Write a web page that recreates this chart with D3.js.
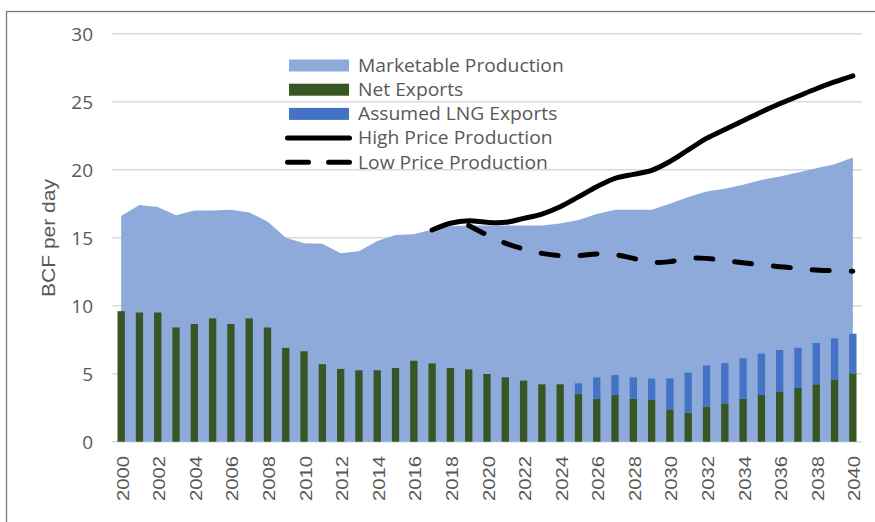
<!DOCTYPE html>
<html>
  <head>
    <meta charset="utf-8"/>
    <style>
      body { margin: 0; background: #fff; }
    </style>
  </head>
  <body>
    <script src="https://d3js.org/d3.v7.min.js"></script>
    <script type="text/javascript">
      var width = 875, height = 522;

      // categories
      var years = [2000, 2001, 2002, 2003, 2004, 2005, 2006, 2007, 2008, 2009,
                   2010, 2011, 2012, 2013, 2014, 2015, 2016, 2017, 2018, 2019,
                   2020, 2021, 2022, 2023, 2024, 2025, 2026, 2027, 2028, 2029,
                   2030, 2031, 2032, 2033, 2034, 2035, 2036, 2037, 2038, 2039, 2040];

      // series, BCF per day
      var marketable = [16.6, 17.4, 17.25, 16.65, 17.0, 17.0, 17.05, 16.85, 16.2, 15.0,
                        14.6, 14.55, 13.85, 14.0, 14.75, 15.2, 15.25, 15.6, 15.85, 15.9,
                        15.9, 15.9, 15.9, 15.9, 16.05, 16.3, 16.75, 17.05, 17.05, 17.05,
                        17.5, 18.0, 18.4, 18.6, 18.9, 19.25, 19.5, 19.8, 20.1, 20.4, 20.9];
      var netExports = [9.6, 9.5, 9.5, 8.4, 8.65, 9.07, 8.65, 9.07, 8.4, 6.9,
                        6.65, 5.7, 5.35, 5.25, 5.25, 5.42, 5.95, 5.76, 5.42, 5.32,
                        4.98, 4.73, 4.49, 4.22, 4.22, 3.5, 3.16, 3.43, 3.16, 3.07,
                        2.38, 2.13, 2.58, 2.82, 3.16, 3.43, 3.7, 3.97, 4.22, 4.56, 5.03];
      var lngExports = [0, 0, 0, 0, 0, 0, 0, 0, 0, 0,
                        0, 0, 0, 0, 0, 0, 0, 0, 0, 0,
                        0, 0, 0, 0, 0, 0.79, 1.57, 1.47, 1.57, 1.57,
                        2.28, 2.95, 3.03, 2.96, 2.97, 3.04, 3.04, 2.94, 3.04, 3.04, 2.91];
      var highPrice = [null, null, null, null, null, null, null, null, null, null,
                       null, null, null, null, null, null, null, 15.57, 16.06, 16.25,
                       16.13, 16.13, 16.42, 16.74, 17.28, 18.0, 18.75, 19.37, 19.66, 19.95,
                       20.6, 21.45, 22.3, 22.95, 23.6, 24.25, 24.85, 25.4, 25.95, 26.45, 26.9];
      var lowPrice = [null, null, null, null, null, null, null, null, null, null,
                      null, null, null, null, null, null, null, null, null, 15.9,
                      15.2, 14.6, 14.17, 13.85, 13.68, 13.68, 13.8, 13.75, 13.48, 13.19,
                      13.24, 13.48, 13.48, 13.3, 13.16, 13.0, 12.87, 12.75, 12.62, 12.57, 12.53];

      var yTicks = [0, 5, 10, 15, 20, 25, 30];
      var xTicks = years.filter(function(d) { return d % 2 == 0; });

      var legendItems = [
        {name: "Marketable Production", kind: "rect", color: "#8eaadb"},
        {name: "Net Exports", kind: "rect", color: "#375623"},
        {name: "Assumed LNG Exports", kind: "rect", color: "#4472c4"},
        {name: "High Price Production", kind: "line"},
        {name: "Low Price Production", kind: "dash"}
      ];

      var svg = d3.select("body")
                  .append("svg")
                  .attr("width", width)
                  .attr("height", height);

      // frame around the chart
      svg.append("rect")
         .attr("x", 6.5).attr("y", 11.5)
         .attr("width", 950).attr("height", 600)
         .attr("fill", "none")
         .attr("stroke", "#7a7a7a")
         .attr("stroke-width", 1.3);

      var x = d3.scaleBand()
                .domain(years)
                .range([112, 862])
                .paddingInner(0.6)
                .paddingOuter(0.3);
      var y = d3.scaleLinear()
                .domain([0, 30])
                .range([441.7, 33.7]);
      var cx = function(d) { return x(d) + x.bandwidth() / 2; };

      // gridlines
      svg.append("g")
         .selectAll("line")
         .data(yTicks)
         .enter().append("line")
         .attr("x1", 112).attr("x2", 862)
         .attr("y1", function(d) { return y(d); })
         .attr("y2", function(d) { return y(d); })
         .attr("stroke", "#d9d9d9")
         .attr("stroke-width", 1.5);

      // marketable production area
      var area = d3.area()
                   .x(function(d, i) { return cx(years[i]); })
                   .y0(y(0))
                   .y1(function(d) { return y(d); });
      svg.append("path")
         .datum(marketable)
         .attr("d", area)
         .attr("fill", "#8eaadb");

      // stacked bars
      svg.append("g")
         .selectAll("rect")
         .data(years)
         .enter().append("rect")
         .attr("x", function(d) { return x(d); })
         .attr("width", x.bandwidth())
         .attr("y", function(d, i) { return y(netExports[i]); })
         .attr("height", function(d, i) { return y(0) - y(netExports[i]); })
         .attr("fill", "#375623");
      svg.append("g")
         .selectAll("rect")
         .data(years.filter(function(d, i) { return lngExports[i] > 0; }))
         .enter().append("rect")
         .attr("x", function(d) { return x(d); })
         .attr("width", x.bandwidth())
         .attr("y", function(d) { var i = years.indexOf(d); return y(netExports[i] + lngExports[i]); })
         .attr("height", function(d) { var i = years.indexOf(d); return y(netExports[i]) - y(netExports[i] + lngExports[i]); })
         .attr("fill", "#4472c4");

      // price lines
      var line = d3.line()
                   .defined(function(d) { return d != null; })
                   .x(function(d, i) { return cx(years[i]); })
                   .y(function(d) { return y(d); })
                   .curve(d3.curveCatmullRom);
      svg.append("path")
         .datum(highPrice)
         .attr("d", line)
         .attr("fill", "none")
         .attr("stroke", "#000")
         .attr("stroke-width", 5)
         .attr("stroke-linecap", "round");
      svg.append("path")
         .datum(lowPrice)
         .attr("d", line)
         .attr("fill", "none")
         .attr("stroke", "#000")
         .attr("stroke-width", 5)
         .attr("stroke-linecap", "round")
         .attr("stroke-dasharray", "17,22");

      // y axis labels
      svg.append("g")
         .selectAll("text")
         .data(yTicks)
         .enter().append("text")
         .attr("x", 93)
         .attr("y", function(d) { return y(d); })
         .attr("dy", "0.36em")
         .attr("text-anchor", "end")
         .attr("font-family", "Open Sans")
         .attr("font-size", 19)
         .attr("fill", "#595959")
         .text(function(d) { return d; });

      // x axis labels
      svg.append("g")
         .selectAll("text")
         .data(xTicks)
         .enter().append("text")
         .attr("transform", function(d) { return "translate(" + (cx(d) + 7.5) + ",456) rotate(-90)"; })
         .attr("text-anchor", "end")
         .attr("font-family", "Liberation Sans")
         .attr("font-size", 16)
         .attr("textLength", 45)
         .attr("lengthAdjust", "spacingAndGlyphs")
         .attr("fill", "#595959")
         .text(function(d) { return d; });

      // y axis title
      svg.append("text")
         .attr("transform", "translate(55,238) rotate(-90)")
         .attr("text-anchor", "middle")
         .attr("font-family", "Liberation Sans")
         .attr("font-size", 19)
         .attr("textLength", 118)
         .attr("lengthAdjust", "spacingAndGlyphs")
         .attr("fill", "#595959")
         .text("BCF per day");

      // legend
      var legend = svg.append("g");
      legendItems.forEach(function(item, i) {
        var ry = 65.5 + i * 24.2;
        if (item.kind == "rect") {
          legend.append("rect")
                .attr("x", 289).attr("y", ry - 6)
                .attr("width", 60).attr("height", 12)
                .attr("fill", item.color);
        } else {
          var l = legend.append("line")
                .attr("x1", 287.5).attr("x2", 349.5)
                .attr("y1", ry).attr("y2", ry)
                .attr("stroke", "#000")
                .attr("stroke-width", 5)
                .attr("stroke-linecap", "round");
          if (item.kind == "dash") l.attr("stroke-dasharray", "21,20");
        }
        var t = legend.append("text")
              .attr("x", 358).attr("y", ry)
              .attr("dy", "0.36em")
              .attr("font-family", "Open Sans")
              .attr("font-size", 17.5)
              .attr("fill", "#595959")
              .text(item.name);
        // widen the glyphs a little, as in the original
        t.attr("textLength", t.node().getComputedTextLength() * 1.1)
         .attr("lengthAdjust", "spacingAndGlyphs");
      });
    </script>
  </body>
</html>
